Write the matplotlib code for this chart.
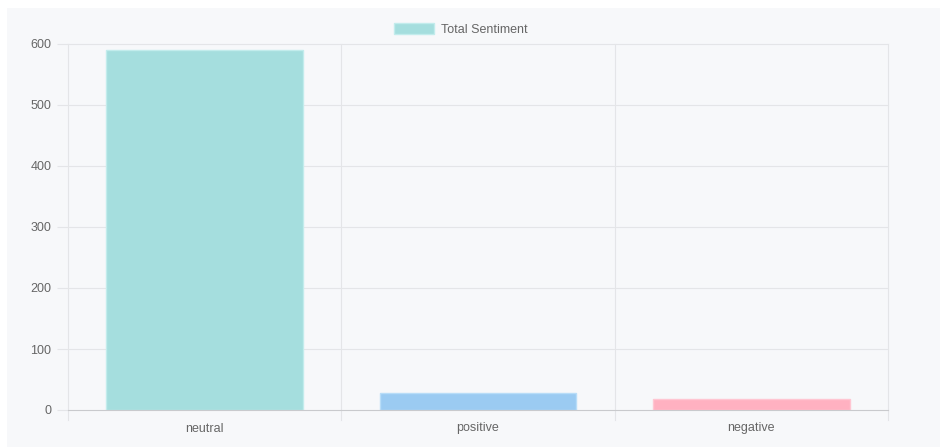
import matplotlib.pyplot as plt
from matplotlib.patches import Rectangle

# --- data ---
categories = ['neutral', 'positive', 'negative']
values = [590, 28, 18]
series_label = 'Total Sentiment'
fill_colors = ['#a5dede', '#9bcbf2', '#ffb1c1']
edge_colors = ['#c2ecec', '#b8ddf8', '#ffc6d2']

plt.rcParams['font.family'] = ['Liberation Sans', 'DejaVu Sans']

W, H = 940, 447
fig = plt.figure(figsize=(W / 100, H / 100), dpi=100)
fig.patch.set_facecolor('white')

# light panel behind the chart
fig.patches.append(Rectangle((7 / W, 0), 1 - 7 / W, 1 - 8 / H,
                             transform=fig.transFigure, facecolor='#f7f8fa',
                             edgecolor='none', zorder=-10))

left, right, top, bottom = 68, 888, 44, 410
ax = fig.add_axes([left / W, 1 - bottom / H, (right - left) / W, (bottom - top) / H])
ax.set_facecolor('none')
ax.set_zorder(1)

x = list(range(len(categories)))
bars = ax.bar(x, values, width=0.72, color=fill_colors, edgecolor=edge_colors,
              linewidth=1, zorder=3, label=series_label)

ax.set_xlim(-0.5, len(categories) - 0.5)
ax.set_ylim(0, 600)
ax.set_yticks(range(0, 601, 100))
ax.set_xticks(x)
ax.set_xticklabels(categories)

# grid: horizontal at y ticks, vertical at category boundaries
grid_c = '#e4e5e8'
for yv in range(100, 601, 100):
    ax.axhline(yv, color=grid_c, lw=0.8, zorder=1, clip_on=False)
for xb in [i - 0.5 for i in range(len(categories) + 1)]:
    ax.plot([xb, xb], [-0.027 * 600, 600], color=grid_c, lw=0.8,
            clip_on=False, zorder=1)
ax.axhline(0, color='#c9cacd', lw=0.8, zorder=4, clip_on=False)

for s in ax.spines.values():
    s.set_visible(False)
ax.tick_params(axis='x', length=0, pad=9, labelsize=9, labelcolor='#666666')
ax.tick_params(axis='y', length=8, width=0.8, color=grid_c, pad=4,
               labelsize=9, labelcolor='#666666')

leg = ax.legend(handles=[bars.patches[0]], labels=[series_label],
                loc='lower center', bbox_to_anchor=(0.479, 1.0), frameon=False,
                handlelength=3.2, handleheight=1.0, handletextpad=0.5,
                fontsize=9, borderaxespad=0.25)
for t in leg.get_texts():
    t.set_color('#666666')

fig.savefig('out.png', dpi=100)
